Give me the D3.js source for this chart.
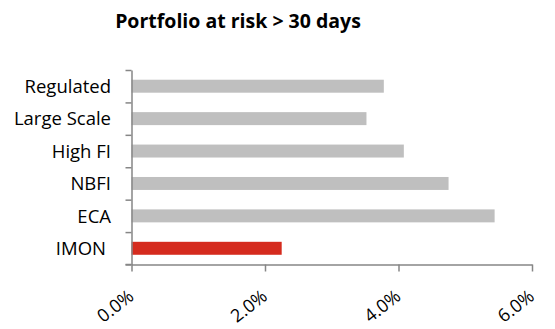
<!DOCTYPE html>
<html>
<head>
<meta charset="utf-8">
<script src="https://cdn.jsdelivr.net/npm/d3@7"></script>
<style>
  html, body { margin: 0; padding: 0; background: #fff; }
  svg { display: block; }
  text { font-family: "Open Sans", "Noto Sans", sans-serif; fill: #000; }
</style>
</head>
<body>
<svg id="chart" width="555" height="329"></svg>
<script>
// Portfolio at risk > 30 days, by peer group (percent)
const categories = ["Regulated", "Large Scale", "High FI", "NBFI", "ECA", "IMON"];
const values = [3.78, 3.52, 4.08, 4.75, 5.44, 2.25];
const highlight = "IMON";
const xTicks = [0, 2, 4, 6];
const title = "Portfolio at risk > 30 days";

const svg = d3.select("#chart");
const margin = { left: 131.5, right: 23, top: 70, bottom: 64.5 };
const W = 555, H = 329;

const x = d3.scaleLinear().domain([0, 6]).range([margin.left, W - margin.right]);
const y = d3.scaleBand().domain(categories).range([margin.top, H - margin.bottom]).paddingInner(0.6).paddingOuter(0.3);

// title
svg.append("text")
  .attr("x", 238).attr("y", 28)
  .attr("text-anchor", "middle")
  .style("font-weight", "bold").style("font-size", "19.5px")
  .text(title);

// bars
svg.selectAll("rect.bar").data(categories).join("rect")
  .attr("class", "bar")
  .attr("x", x(0))
  .attr("y", d => y(d))
  .attr("width", (d, i) => x(values[i]) - x(0))
  .attr("height", y.bandwidth())
  .attr("fill", d => d === highlight ? "#D52B1E" : "#BFBFBF");

const axisColor = "#868686";

// y axis: line with ticks on category boundaries
const yb = d3.scaleLinear().domain([0, categories.length]).range([margin.top, H - margin.bottom]);
const yAxis = svg.append("g").attr("transform", `translate(${x(0)},0)`)
  .call(d3.axisLeft(yb).tickValues(d3.range(categories.length + 1)).tickSize(6).tickSizeOuter(0).tickFormat(""));
yAxis.selectAll("line, path").attr("stroke", axisColor).attr("stroke-width", 1.5);

// category labels
svg.selectAll("text.cat").data(categories).join("text")
  .attr("class", "cat")
  .attr("x", d => d === highlight ? 106 : 111)
  .attr("y", d => y(d) + y.bandwidth() / 2)
  .attr("dy", "0.36em")
  .attr("text-anchor", "end")
  .style("font-size", "18.5px")
  .text(d => d);

// x axis
const xAxis = svg.append("g").attr("transform", `translate(0,${H - margin.bottom})`)
  .call(d3.axisBottom(x).tickValues(xTicks).tickSize(7).tickSizeOuter(0).tickFormat(d => d.toFixed(1) + "%"));
xAxis.select(".domain").attr("stroke", axisColor).attr("stroke-width", 1.5);
xAxis.selectAll(".tick line").attr("stroke", axisColor).attr("stroke-width", 1.5);
xAxis.selectAll(".tick text")
  .attr("font-family", null)
  .attr("font-size", null)
  .style("font-size", "18px")
  .attr("text-anchor", "end")
  .attr("dy", null)
  .attr("transform", "translate(3,34) rotate(-38)")
  .attr("y", 0).attr("x", 0);
// extend the x axis line left to meet the y tick stub
svg.append("line")
  .attr("x1", x(0) - 6).attr("x2", x(0))
  .attr("y1", H - margin.bottom).attr("y2", H - margin.bottom)
  .attr("stroke", axisColor).attr("stroke-width", 1.5);
</script>
</body>
</html>
